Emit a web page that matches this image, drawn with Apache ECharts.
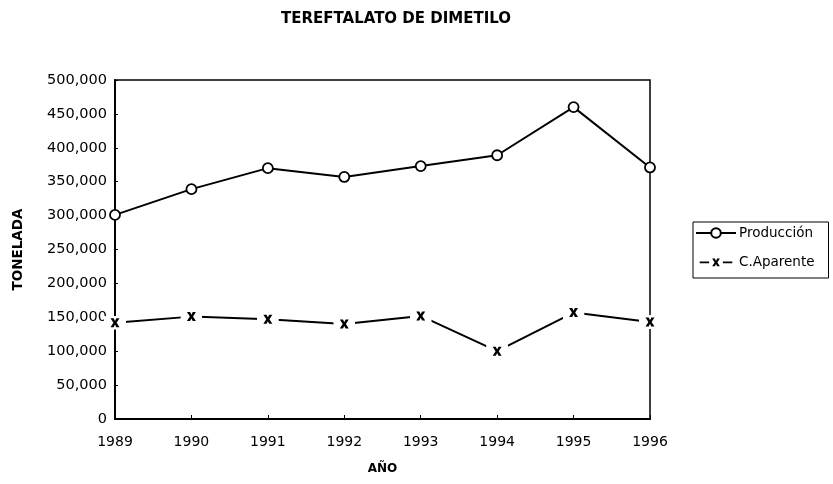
<!DOCTYPE html>
<html><head><meta charset="utf-8">
<script src="https://cdn.jsdelivr.net/npm/echarts@6/dist/echarts.min.js"></script>
<style>html,body{margin:0;padding:0;background:#fff}#c{width:833px;height:484px}</style>
</head><body><div id="c"></div>
<script>
const years = ['1989','1990','1991','1992','1993','1994','1995','1996'];
const produccion = [301000, 339000, 370000, 357000, 373000, 389000, 460000, 371000];
const aparente = [142000, 151000, 147000, 140000, 152000, 100000, 157000, 143000];
const yTicks = [0, 50000, 100000, 150000, 200000, 250000, 300000, 350000, 400000, 450000, 500000];

const font = '"DejaVu Sans", sans-serif';
const xPath = "M6.5,2.5 L9.7,2.5 L11,5.2 L12.3,2.5 L15.5,2.5 L12.6,7 L15.5,11.5 L12.3,11.5 L11,8.8 L9.7,11.5 L6.5,11.5 L9.4,7 Z";
const xSvg = "<svg xmlns='http://www.w3.org/2000/svg' width='22' height='14' viewBox='0 0 22 14'>" +
  "<rect width='22' height='14' fill='white'/><path d='" + xPath + "' fill='black'/></svg>";
const xMark = 'image://data:image/svg+xml;charset=utf-8,' + encodeURIComponent(xSvg);
const legSvg = "<svg xmlns='http://www.w3.org/2000/svg' width='40' height='14' viewBox='0 0 40 14'>" +
  "<path d='M1,7.5 L12,7.5 M28,7.5 L39,7.5' stroke='black' stroke-width='2'/>" +
  "<path transform='translate(9,0.5)' d='" + xPath + "' fill='black'/></svg>";
const legMark = 'image://data:image/svg+xml;charset=utf-8,' + encodeURIComponent(legSvg);

const chart = echarts.init(document.getElementById('c'));
chart.setOption({
  animation: false,
  backgroundColor: '#fff',
  title: {
    text: 'TEREFTALATO DE DIMETILO', left: 391, top: 7, textAlign: 'center',
    textStyle: {fontFamily: font, fontSize: 15, fontWeight: 'bold', color: '#000'}
  },
  legend: {
    orient: 'vertical', left: 693, top: 222, width: 139,
    padding: [4, 14, 9, 2], itemGap: 15, itemWidth: 40, itemHeight: 12,
    borderColor: '#000', borderWidth: 1,
    textStyle: {fontFamily: font, fontSize: 13.5, color: '#000', padding: [0,0,0,-2]},
    data: ['Producción', {name: 'C.Aparente', icon: legMark}]
  },
  grid: {left: 115, right: 183, top: 80, bottom: 65, show: true, borderColor: '#000', borderWidth: 1.5},
  xAxis: {
    type: 'category', data: years, boundaryGap: false,
    name: 'AÑO', nameLocation: 'middle', nameGap: 44,
    nameTextStyle: {fontFamily: font, fontSize: 12, fontWeight: 'bold', color: '#000'},
    axisLine: {lineStyle: {color: '#000', width: 2}},
    axisTick: {inside: true, length: 4, lineStyle: {color: '#000'}},
    axisLabel: {fontFamily: font, fontSize: 14, color: '#000', margin: 16},
    splitLine: {show: false}
  },
  yAxis: {
    type: 'value', min: 0, max: 500000, interval: 50000,
    name: 'TONELADA', nameLocation: 'middle', nameGap: 90, nameRotate: 90,
    nameTextStyle: {fontFamily: font, fontSize: 13.5, fontWeight: 'bold', color: '#000'},
    axisLine: {show: true, lineStyle: {color: '#000', width: 2}},
    axisTick: {show: true, inside: true, length: 3, lineStyle: {color: '#000'}},
    axisLabel: {fontFamily: font, fontSize: 14.5, color: '#000', margin: 8,
      formatter: v => yTicks.includes(v) ? v.toLocaleString('en-US') : ''},
    splitLine: {show: false}
  },
  series: [
    {
      name: 'Producción', type: 'line', data: produccion, z: 3,
      symbol: 'circle', symbolSize: 10, showAllSymbol: true,
      lineStyle: {color: '#000', width: 2},
      itemStyle: {color: '#fff', borderColor: '#000', borderWidth: 1.8}
    },
    {
      name: 'C.Aparente', type: 'line', data: aparente, z: 3,
      symbol: xMark, symbolSize: [22, 14], showAllSymbol: true,
      lineStyle: {color: '#000', width: 2},
      itemStyle: {color: '#000'}
    }
  ]
});
</script></body></html>
